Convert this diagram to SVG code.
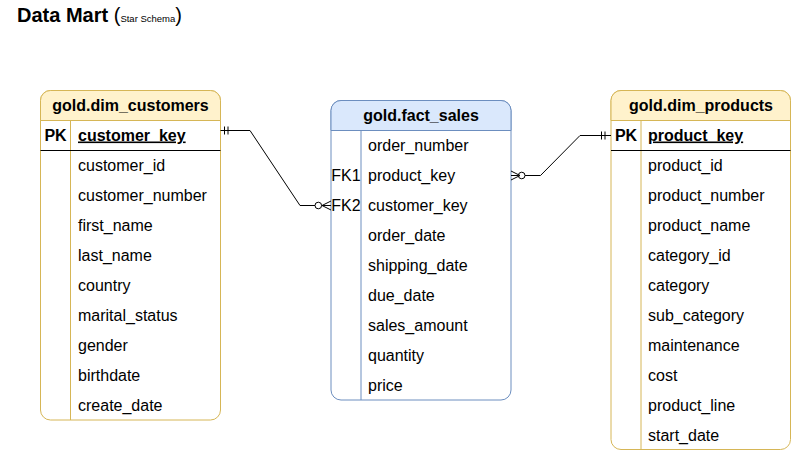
<svg xmlns="http://www.w3.org/2000/svg" width="791" height="451" viewBox="0 0 791 451">
  <defs>
    <style>
      .t { font-family: "Liberation Sans", Arial, Helvetica, sans-serif; font-size: 16px; fill: #000; }
      .b { font-weight: bold; }
      .u { text-decoration: underline; }
      .c { text-anchor: middle; }
      .yb { fill: #fff; stroke: #d6b656; stroke-width: 1; }
      .yh { fill: #fff2cc; stroke: #d6b656; stroke-width: 1; }
      .bb { fill: #fff; stroke: #6c8ebf; stroke-width: 1; }
      .bh { fill: #dae8fc; stroke: #6c8ebf; stroke-width: 1; }
      .yd { stroke: #d6b656; stroke-width: 1; fill: none; }
      .bd { stroke: #6c8ebf; stroke-width: 1; fill: none; }
      .k { stroke: #000; stroke-width: 1; fill: none; }
      .edge { stroke: #000; stroke-width: 1; fill: none; }
      .ring { stroke: #000; stroke-width: 1; fill: #fff; }
    </style>
  </defs>
  <rect width="791" height="451" fill="#fff"/>

  <!-- title -->
  <text class="t b" x="17" y="22" font-size="20" style="font-size:20px">Data Mart <tspan font-weight="normal">(</tspan><tspan font-weight="normal" style="font-size:9.5px">Star Schema</tspan><tspan font-weight="normal">)</tspan></text>

  <!-- gold.dim_customers -->
  <g id="dim_customers">
    <rect class="yb" x="40.5" y="90.5" width="180" height="329.5" rx="10"/>
    <path class="yh" d="M40.5,120.5 V100.5 A10,10 0 0 1 50.5,90.5 H210.5 A10,10 0 0 1 220.5,100.5 V120.5 Z"/>
    <line class="yd" x1="70.5" y1="120.5" x2="70.5" y2="420"/>
    <line class="k" x1="40.5" y1="150.5" x2="220.5" y2="150.5"/>
    <text class="t b c" x="130.5" y="110.5">gold.dim_customers</text>
    <text class="t b c" x="55.5" y="140.5">PK</text>
    <text class="t b u" x="78" y="140.5">customer_key</text>
    <text class="t" x="78" y="170.5">customer_id</text>
    <text class="t" x="78" y="200.5">customer_number</text>
    <text class="t" x="78" y="230.5">first_name</text>
    <text class="t" x="78" y="260.5">last_name</text>
    <text class="t" x="78" y="290.5">country</text>
    <text class="t" x="78" y="320.5">marital_status</text>
    <text class="t" x="78" y="350.5">gender</text>
    <text class="t" x="78" y="380.5">birthdate</text>
    <text class="t" x="78" y="410.5">create_date</text>
  </g>

  <!-- gold.fact_sales -->
  <g id="fact_sales">
    <rect class="bb" x="331" y="100.5" width="180" height="299.5" rx="10"/>
    <path class="bh" d="M331,130.5 V110.5 A10,10 0 0 1 341,100.5 H501 A10,10 0 0 1 511,110.5 V130.5 Z"/>
    <line class="bd" x1="361" y1="130.5" x2="361" y2="400"/>
    <text class="t b c" x="421" y="120.5">gold.fact_sales</text>
    <text class="t" x="368" y="150.5">order_number</text>
    <text class="t c" x="346" y="180.5">FK1</text>
    <text class="t" x="368" y="180.5">product_key</text>
    <text class="t c" x="346" y="210.5">FK2</text>
    <text class="t" x="368" y="210.5">customer_key</text>
    <text class="t" x="368" y="240.5">order_date</text>
    <text class="t" x="368" y="270.5">shipping_date</text>
    <text class="t" x="368" y="300.5">due_date</text>
    <text class="t" x="368" y="330.5">sales_amount</text>
    <text class="t" x="368" y="360.5">quantity</text>
    <text class="t" x="368" y="390.5">price</text>
  </g>

  <!-- gold.dim_products -->
  <g id="dim_products">
    <rect class="yb" x="611" y="90.5" width="179.5" height="359" rx="10"/>
    <path class="yh" d="M611,120.5 V100.5 A10,10 0 0 1 621,90.5 H780.5 A10,10 0 0 1 790.5,100.5 V120.5 Z"/>
    <line class="yd" x1="641" y1="120.5" x2="641" y2="449.5"/>
    <line class="k" x1="611" y1="150.5" x2="790.5" y2="150.5"/>
    <text class="t b c" x="701" y="110.5">gold.dim_products</text>
    <text class="t b c" x="626" y="140.5">PK</text>
    <text class="t b u" x="648" y="140.5">product_key</text>
    <text class="t" x="648" y="170.5">product_id</text>
    <text class="t" x="648" y="200.5">product_number</text>
    <text class="t" x="648" y="230.5">product_name</text>
    <text class="t" x="648" y="260.5">category_id</text>
    <text class="t" x="648" y="290.5">category</text>
    <text class="t" x="648" y="320.5">sub_category</text>
    <text class="t" x="648" y="350.5">maintenance</text>
    <text class="t" x="648" y="380.5">cost</text>
    <text class="t" x="648" y="410.5">product_line</text>
    <text class="t" x="648" y="440.5">start_date</text>
  </g>

  <!-- relationships -->
  <g id="connectors">
    <!-- dim_customers (one) to fact_sales (zero or many) -->
    <path class="edge" d="M220.5,130.5 H250 L300,205.5 H315"/>
    <line class="edge" x1="224.5" y1="126.5" x2="224.5" y2="134.5"/>
    <line class="edge" x1="228" y1="126.5" x2="228" y2="134.5"/>
    <circle class="ring" cx="318.3" cy="205.5" r="3.3"/>
    <path class="edge" d="M331,201 L322,205.5 L331,210 M321.6,205.5 H331"/>

    <!-- dim_products (one) to fact_sales (zero or many) -->
    <path class="edge" d="M611,135.5 H580 L540.5,175.5 H525"/>
    <line class="edge" x1="601.5" y1="131.5" x2="601.5" y2="139.5"/>
    <line class="edge" x1="605" y1="131.5" x2="605" y2="139.5"/>
    <circle class="ring" cx="521.7" cy="175.5" r="3.3"/>
    <path class="edge" d="M511,171 L520,175.5 L511,180 M511,175.5 H518.4"/>
  </g>
</svg>
